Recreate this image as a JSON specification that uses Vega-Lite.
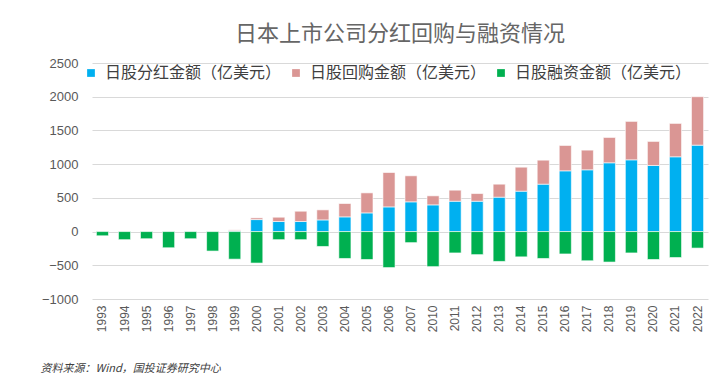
{
  "$schema": "https://vega.github.io/schema/vega-lite/v6.json",
  "autosize": "none",
  "width": 616,
  "height": 236,
  "padding": {"left": 92, "top": 63, "right": 12, "bottom": 84},
  "background": "white",
  "title": {
    "text": "日本上市公司分红回购与融资情况",
    "font": "Noto Sans CJK SC",
    "fontSize": 22,
    "fontWeight": "normal",
    "color": "#666666",
    "anchor": "middle",
    "offset": 11
  },
  "data": {
    "values": [
      {"year": "1993", "type": "日股融资金额（亿美元）", "value": -63},
      {"year": "1994", "type": "日股融资金额（亿美元）", "value": -120},
      {"year": "1995", "type": "日股融资金额（亿美元）", "value": -106},
      {"year": "1996", "type": "日股融资金额（亿美元）", "value": -240},
      {"year": "1997", "type": "日股融资金额（亿美元）", "value": -106},
      {"year": "1998", "type": "日股融资金额（亿美元）", "value": -289},
      {"year": "1999", "type": "日股分红金额（亿美元）", "value": 15},
      {"year": "1999", "type": "日股回购金额（亿美元）", "value": 10},
      {"year": "1999", "type": "日股融资金额（亿美元）", "value": -409},
      {"year": "2000", "type": "日股分红金额（亿美元）", "value": 178},
      {"year": "2000", "type": "日股回购金额（亿美元）", "value": 25},
      {"year": "2000", "type": "日股融资金额（亿美元）", "value": -467},
      {"year": "2001", "type": "日股分红金额（亿美元）", "value": 149},
      {"year": "2001", "type": "日股回购金额（亿美元）", "value": 64},
      {"year": "2001", "type": "日股融资金额（亿美元）", "value": -120},
      {"year": "2002", "type": "日股分红金额（亿美元）", "value": 149},
      {"year": "2002", "type": "日股回购金额（亿美元）", "value": 153},
      {"year": "2002", "type": "日股融资金额（亿美元）", "value": -120},
      {"year": "2003", "type": "日股分红金额（亿美元）", "value": 173},
      {"year": "2003", "type": "日股回购金额（亿美元）", "value": 149},
      {"year": "2003", "type": "日股融资金额（亿美元）", "value": -221},
      {"year": "2004", "type": "日股分红金额（亿美元）", "value": 218},
      {"year": "2004", "type": "日股回购金额（亿美元）", "value": 198},
      {"year": "2004", "type": "日股融资金额（亿美元）", "value": -399},
      {"year": "2005", "type": "日股分红金额（亿美元）", "value": 277},
      {"year": "2005", "type": "日股回购金额（亿美元）", "value": 297},
      {"year": "2005", "type": "日股融资金额（亿美元）", "value": -414},
      {"year": "2006", "type": "日股分红金额（亿美元）", "value": 366},
      {"year": "2006", "type": "日股回购金额（亿美元）", "value": 510},
      {"year": "2006", "type": "日股融资金额（亿美元）", "value": -534},
      {"year": "2007", "type": "日股分红金额（亿美元）", "value": 441},
      {"year": "2007", "type": "日股回购金额（亿美元）", "value": 386},
      {"year": "2007", "type": "日股融资金额（亿美元）", "value": -164},
      {"year": "2010", "type": "日股分红金额（亿美元）", "value": 396},
      {"year": "2010", "type": "日股回购金额（亿美元）", "value": 134},
      {"year": "2010", "type": "日股融资金额（亿美元）", "value": -520},
      {"year": "2011", "type": "日股分红金额（亿美元）", "value": 450},
      {"year": "2011", "type": "日股回购金额（亿美元）", "value": 164},
      {"year": "2011", "type": "日股融资金额（亿美元）", "value": -317},
      {"year": "2012", "type": "日股分红金额（亿美元）", "value": 450},
      {"year": "2012", "type": "日股回购金额（亿美元）", "value": 114},
      {"year": "2012", "type": "日股融资金额（亿美元）", "value": -342},
      {"year": "2013", "type": "日股分红金额（亿美元）", "value": 510},
      {"year": "2013", "type": "日股回购金额（亿美元）", "value": 193},
      {"year": "2013", "type": "日股融资金额（亿美元）", "value": -443},
      {"year": "2014", "type": "日股分红金额（亿美元）", "value": 599},
      {"year": "2014", "type": "日股回购金额（亿美元）", "value": 356},
      {"year": "2014", "type": "日股融资金额（亿美元）", "value": -375},
      {"year": "2015", "type": "日股分红金额（亿美元）", "value": 703},
      {"year": "2015", "type": "日股回购金额（亿美元）", "value": 356},
      {"year": "2015", "type": "日股融资金额（亿美元）", "value": -399},
      {"year": "2016", "type": "日股分红金额（亿美元）", "value": 901},
      {"year": "2016", "type": "日股回购金额（亿美元）", "value": 376},
      {"year": "2016", "type": "日股融资金额（亿美元）", "value": -332},
      {"year": "2017", "type": "日股分红金额（亿美元）", "value": 916},
      {"year": "2017", "type": "日股回购金额（亿美元）", "value": 292},
      {"year": "2017", "type": "日股融资金额（亿美元）", "value": -433},
      {"year": "2018", "type": "日股分红金额（亿美元）", "value": 1020},
      {"year": "2018", "type": "日股回购金额（亿美元）", "value": 376},
      {"year": "2018", "type": "日股融资金额（亿美元）", "value": -452},
      {"year": "2019", "type": "日股分红金额（亿美元）", "value": 1064},
      {"year": "2019", "type": "日股回购金额（亿美元）", "value": 570},
      {"year": "2019", "type": "日股融资金额（亿美元）", "value": -317},
      {"year": "2020", "type": "日股分红金额（亿美元）", "value": 980},
      {"year": "2020", "type": "日股回购金额（亿美元）", "value": 357},
      {"year": "2020", "type": "日股融资金额（亿美元）", "value": -414},
      {"year": "2021", "type": "日股分红金额（亿美元）", "value": 1109},
      {"year": "2021", "type": "日股回购金额（亿美元）", "value": 495},
      {"year": "2021", "type": "日股融资金额（亿美元）", "value": -385},
      {"year": "2022", "type": "日股分红金额（亿美元）", "value": 1282},
      {"year": "2022", "type": "日股回购金额（亿美元）", "value": 718},
      {"year": "2022", "type": "日股融资金额（亿美元）", "value": -245}
    ]
  },
  "mark": {"type": "bar", "stroke": "white", "strokeWidth": 0.6},
  "encoding": {
    "x": {
      "field": "year",
      "type": "ordinal",
      "scale": {"paddingInner": 0.45, "paddingOuter": 0.2},
      "axis": {
        "labelAngle": -90,
        "labelAlign": "right",
        "labelBaseline": "middle",
        "labelFont": "Liberation Sans",
        "labelFontSize": 12,
        "labelColor": "#595959",
        "labelPadding": 6,
        "ticks": false,
        "domain": false,
        "title": "资料来源：Wind，国投证券研究中心",
        "titleFont": "Noto Sans CJK SC",
        "titleFontSize": 11,
        "titleFontStyle": "italic",
        "titleFontWeight": "normal",
        "titleColor": "#404040",
        "titleAnchor": "start",
        "titleAlign": "left",
        "titleBaseline": "middle",
        "titleX": -52,
        "titleY": 69
      }
    },
    "y": {
      "field": "value",
      "type": "quantitative",
      "stack": true,
      "scale": {"domain": [-1000, 2500], "nice": false},
      "axis": {
        "values": [-1000, -500, 0, 500, 1000, 1500, 2000, 2500],
        "format": "d",
        "labelFont": "Liberation Sans",
        "labelFontSize": 13,
        "labelColor": "#595959",
        "labelPadding": 14,
        "ticks": false,
        "domain": false,
        "gridColor": "#d9d9d9",
        "gridWidth": 1,
        "title": null
      }
    },
    "color": {
      "field": "type",
      "type": "nominal",
      "scale": {
        "domain": ["日股分红金额（亿美元）", "日股回购金额（亿美元）", "日股融资金额（亿美元）"],
        "range": ["#00B0F0", "#DA9694", "#00B050"]
      },
      "legend": {
        "title": null,
        "orient": "none",
        "legendX": -9,
        "legendY": 2,
        "direction": "horizontal",
        "columns": 3,
        "columnPadding": 6,
        "symbolType": "square",
        "symbolSize": 60,
        "symbolStrokeWidth": 0,
        "labelFont": "Noto Sans CJK SC",
        "labelFontSize": 16,
        "labelColor": "#404040",
        "labelOffset": 6,
        "labelLimit": 300
      }
    },
    "order": {"field": "type", "sort": "ascending"}
  },
  "config": {"view": {"stroke": null}}
}
